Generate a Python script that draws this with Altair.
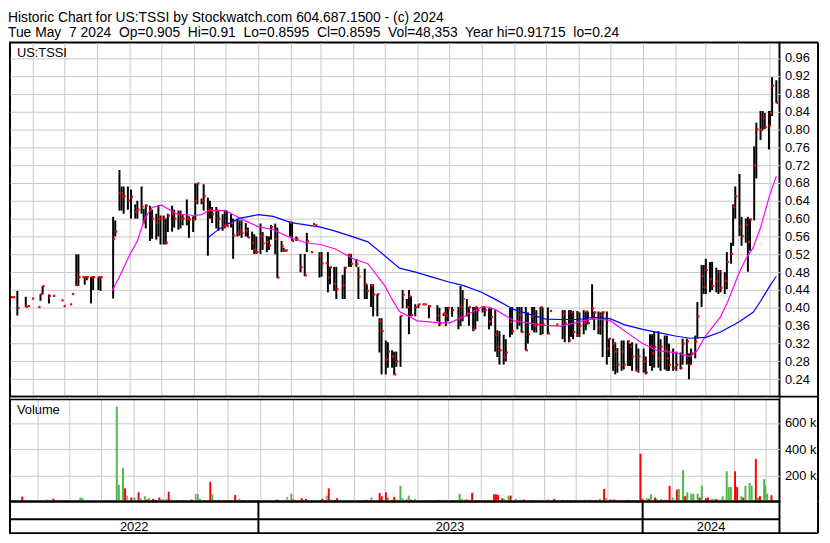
import altair as alt
import numpy as np
import pandas as pd

FONT = "Liberation Sans"
GRID = "#c8c8c8"

TITLE_1 = "Historic Chart for US:TSSI by Stockwatch.com 604.687.1500 - (c) 2024"
TITLE_2 = ("Tue May\u00a0 7 2024\u00a0 Op=0.905\u00a0 Hi=0.91\u00a0 Lo=0.8595\u00a0 "
           "Cl=0.8595\u00a0 Vol=48,353\u00a0 Year hi=0.91715\u00a0 lo=0.24")
SYMBOL = "US:TSSI"
VOLUME_LABEL = "Volume"

price_ticks = [0.24, 0.28, 0.32, 0.36, 0.40, 0.44, 0.48, 0.52, 0.56, 0.60,
               0.64, 0.68, 0.72, 0.76, 0.80, 0.84, 0.88, 0.92, 0.96]
volume_ticks = [200000, 400000, 600000]
year_labels = ["2022", "2023", "2024"]
year_starts = ["2022-05-10", "2023-01-01", "2024-01-01"]
year_ends = ["2023-01-01", "2024-01-01", "2024-05-10"]
grid_months = [(2022, m) for m in range(6, 13)] + [(2023, m) for m in range(1, 13)] + \
              [(2024, m) for m in range(1, 6)]

# bars per month: (high, low, close, volume in thousands); None = no trade
bars_2022_05 = [(.424, .424, .424, 5), (.424, .424, .424, 3), (.438, .383, .400, 37), None, None,
                (.425, .402, .402, 8), (.404, .404, .404, 4), (.421, .421, .421, 6)]
bars_2022_06 = [None, (.402, .402, .402, 5), (.431, .416, .431, 12), (.449, .430, .449, 15), None,
                (.430, .410, .427, 22), (.427, .427, .427, 5), None, None, (.417, .417, .417, 4),
                (.404, .404, .404, 6)]
bars_2022_07 = [None, (.408, .408, .408, 4), (.431, .431, .431, 8), (.520, .449, .451, 30),
                (.520, .449, .469, 25), (.469, .469, .469, 3), (.469, .452, .469, 6),
                (.469, .462, .469, 4), (.469, .410, .469, 10), (.469, .440, .469, 6)]
bars_2022_08 = [(.469, .440, .469, 5), (.469, .438, .469, 6), None, None, None,
                (.604, .421, .555, 725), (.596, .560, .571, 127), (.709, .618, .657, 255),
                (.672, .618, .650, 100), (.672, .611, .650, 45), (.672, .620, .640, 30)]
bars_2022_09 = [(.665, .600, .649, 30), (.632, .600, .615, 70), (.640, .600, .620, 25),
                (.672, .611, .627, 40), (.622, .589, .600, 15), (.632, .578, .629, 25),
                (.629, .550, .619, 20), (.620, .555, .600, 12), (.611, .553, .590, 30),
                (.630, .560, .600, 15), (.607, .542, .600, 20)]
bars_2022_10 = [(.607, .542, .600, 20), (.600, .542, .546, 75), (.611, .570, .607, 15),
                (.629, .571, .611, 10), (.620, .580, .600, 8), (.618, .575, .611, 12),
                (.618, .578, .600, 10), (.610, .585, .600, 8), (.643, .585, .600, 10),
                (.605, .557, .598, 15), (.605, .570, .598, 60)]
bars_2022_11 = [(.679, .596, .640, 55), (.679, .632, .679, 20), (.645, .632, .640, 10),
                (.677, .618, .650, 12), (.647, .517, .618, 150), (.640, .600, .620, 55),
                (.626, .590, .610, 10), (.626, .578, .618, 15), (.618, .573, .600, 8),
                (.610, .573, .582, 10), (.618, .578, .585, 12)]
bars_2022_12 = [(.618, .583, .583, 10), (.610, .580, .590, 8), (.600, .510, .562, 50),
                (.600, .560, .568, 20), (.596, .562, .573, 12), (.596, .557, .568, 10),
                (.590, .560, .573, 8), (.580, .558, .558, 10), (.571, .530, .546, 6),
                (.565, .521, .530, 12), (.560, .521, .525, 10)]
bars_2023_01 = [(.589, .521, .560, 10), (.570, .530, .545, 6), (.561, .525, .548, 8),
                (.560, .530, .540, 5), (.586, .553, .581, 10), (.589, .520, .555, 15),
                (.580, .467, .468, 10), (.550, .525, .539, 8), (.535, .526, .529, 5),
                (.529, .526, .529, 35), (.593, .560, .591, 60)]
bars_2023_02 = [(.593, .550, .550, 15), (.560, .550, .555, 5), None, (.521, .480, .491, 25),
                (.521, .471, .473, 20), (.568, .525, .550, 10), (.525, .525, .525, 4),
                (.588, .588, .588, 5), (.585, .585, .585, 4), (.525, .468, .517, 10)]
bars_2023_03 = [(.525, .470, .500, 20), (.500, .500, .500, 45), (.525, .435, .468, 100),
                (.492, .453, .491, 15), (.492, .438, .454, 10), (.492, .420, .442, 25), None,
                (.474, .420, .450, 10), (.492, .420, .490, 8), (.521, .492, .519, 10),
                (.521, .492, .499, 10)]
bars_2023_04 = [(.510, .492, .499, 10), (.492, .420, .470, 8), None, (.488, .420, .453, 10),
                (.453, .420, .438, 12), (.453, .402, .449, 30), (.453, .381, .430, 10),
                (.431, .381, .431, 8), (.377, .300, .370, 65), (.377, .251, .348, 40)]
bars_2023_05 = [(.327, .251, .284, 70), (.323, .266, .302, 30), (.305, .266, .291, 12),
                (.302, .250, .251, 35), (.302, .268, .280, 15), (.382, .268, .382, 120),
                (.440, .399, .430, 25), (.420, .399, .402, 15), (.440, .341, .426, 45),
                (.426, .381, .384, 15), (.408, .381, .401, 20)]
bars_2023_06 = [(.408, .400, .408, 5), (.408, .408, .408, 4), (.408, .408, .408, 3),
                (.406, .377, .404, 8), None, None, (.406, .370, .383, 10), (.400, .359, .365, 12),
                (.388, .382, .388, 6), (.402, .359, .383, 8), (.402, .370, .400, 10)]
bars_2023_07 = [(.402, .380, .395, 6), None, (.402, .352, .380, 10), (.449, .359, .402, 60),
                (.440, .370, .420, 20), (.420, .381, .388, 15), (.402, .360, .402, 15),
                (.402, .348, .352, 65), (.402, .352, .402, 10), (.402, .370, .395, 8)]
bars_2023_08 = [(.402, .390, .402, 8), (.402, .381, .395, 6), (.399, .352, .370, 10),
                (.399, .360, .380, 8), (.395, .302, .340, 55), (.350, .290, .313, 55),
                (.348, .273, .305, 50), (.340, .273, .289, 25), (.330, .280, .300, 20),
                (.400, .334, .368, 45), (.402, .340, .348, 45)]
bars_2023_09 = [(.402, .352, .370, 20), (.402, .360, .385, 8), (.402, .345, .346, 12),
                (.402, .305, .305, 15), (.390, .320, .341, 10), (.402, .350, .381, 8),
                (.402, .345, .359, 10), (.395, .345, .363, 8), (.402, .339, .402, 10),
                (.401, .341, .363, 8)]
bars_2023_10 = [(.401, .341, .343, 8), (.393, .393, .393, 15), None, (.363, .363, .363, 20), None,
                (.395, .330, .387, 10), (.395, .323, .366, 12), (.395, .323, .327, 8),
                (.395, .335, .390, 6), (.393, .330, .346, 10), (.393, .335, .339, 8)]
bars_2023_11 = [(.390, .335, .360, 8), (.395, .341, .366, 10), (.392, .350, .392, 8),
                (.392, .363, .366, 12), (.453, .374, .399, 15), (.392, .350, .390, 10),
                (.392, .341, .356, 12), (.390, .340, .385, 8), (.392, .290, .390, 20),
                (.392, .273, .309, 95), (.331, .290, .331, 25)]
bars_2023_12 = [(.331, .259, .320, 15), (.323, .251, .302, 12), (.310, .255, .273, 15),
                (.327, .259, .302, 10), (.327, .262, .273, 8), (.327, .270, .325, 12),
                (.320, .270, .313, 10), (.323, .259, .291, 12), (.320, .258, .260, 10),
                (.309, .255, .291, 8)]
bars_2024_01 = [(.309, .255, .280, 365), (.291, .251, .255, 20), (.341, .270, .313, 25),
                (.341, .259, .298, 20), (.348, .266, .313, 55), (.348, .266, .287, 30),
                (.330, .259, .313, 20), (.338, .262, .305, 15), (.338, .259, .287, 10),
                (.320, .259, .273, 12), (.309, .259, .265, 120)]
bars_2024_02 = [(.302, .259, .273, 30), (.300, .262, .265, 90), (.331, .273, .320, 95),
                (.331, .273, .325, 240), (.298, .240, .273, 40), (.309, .273, .298, 70),
                (.338, .287, .325, 60), (.413, .331, .381, 60), (.496, .402, .471, 60),
                (.496, .431, .447, 30)]
bars_2024_03 = [(.510, .431, .485, 120), (.503, .435, .464, 25), (.503, .440, .449, 30),
                (.490, .435, .460, 20), (.485, .431, .481, 15), (.485, .435, .445, 20),
                (.480, .431, .460, 15), (.525, .442, .503, 40), (.546, .499, .521, 230),
                (.632, .539, .626, 110), (.672, .600, .650, 110)]
bars_2024_04 = [(.700, .561, .582, 230), (.604, .539, .561, 110), (.600, .546, .586, 40),
                (.604, .481, .548, 30), (.600, .528, .598, 120), (.762, .596, .719, 140),
                (.815, .690, .800, 120), (.841, .776, .798, 325), (.841, .798, .826, 30),
                (.837, .801, .805, 40), (.841, .755, .808, 170)]
bars_2024_05 = [(.841, .808, .837, 125), (.917, .830, .898, 60), (.910, .8595, .8595, 48)]

# moving averages
ma_fast_dates = ["2022-08-15", "2022-08-22", "2022-09-01", "2022-09-08", "2022-09-15", "2022-09-22",
                 "2022-10-01", "2022-10-15", "2022-11-01", "2022-11-08", "2022-11-15", "2022-12-01",
                 "2022-12-15", "2023-01-01", "2023-01-15", "2023-02-01", "2023-02-15", "2023-03-01",
                 "2023-03-15", "2023-04-01", "2023-04-15", "2023-05-01", "2023-05-08", "2023-05-15",
                 "2023-06-01", "2023-06-15", "2023-07-01", "2023-07-15", "2023-08-01", "2023-08-08",
                 "2023-08-15", "2023-09-01", "2023-09-15", "2023-10-01", "2023-10-15", "2023-11-01",
                 "2023-11-15", "2023-12-01", "2023-12-15", "2024-01-01", "2024-01-15", "2024-02-01",
                 "2024-02-15", "2024-02-22", "2024-03-01", "2024-03-15", "2024-03-22", "2024-04-01",
                 "2024-04-08", "2024-04-15", "2024-04-22", "2024-05-01", "2024-05-07"]
ma_fast_vals = [.438, .47, .52, .55, .60, .625, .630, .611, .607, .609, .618, .618, .600,
                .582, .575, .557, .546, .542, .532, .510, .499, .450, .419, .392, .371, .368,
                .366, .380, .402, .402, .395, .371, .366, .361, .359, .368, .376, .372, .348,
                .320, .304, .300, .291, .305, .338, .380, .415, .475, .510, .535, .580, .655, .695]
ma_slow_dates = ["2022-11-14", "2022-11-22", "2022-12-01", "2022-12-15", "2023-01-01", "2023-01-15",
                 "2023-02-01", "2023-02-15", "2023-03-01", "2023-03-15", "2023-04-01", "2023-04-15",
                 "2023-05-01", "2023-05-15", "2023-06-01", "2023-06-15", "2023-07-01", "2023-07-15",
                 "2023-08-01", "2023-08-15", "2023-09-01", "2023-09-15", "2023-10-01", "2023-10-15",
                 "2023-11-01", "2023-11-15", "2023-12-01", "2023-12-15", "2024-01-01", "2024-01-15",
                 "2024-02-01", "2024-02-15", "2024-03-01", "2024-03-15", "2024-04-01", "2024-04-15",
                 "2024-04-22", "2024-05-01", "2024-05-07"]
ma_slow_vals = [.557, .572, .586, .601, .609, .605, .591, .586, .581, .572, .559, .548, .517,
                .489, .479, .469, .458, .450, .435, .418, .396, .386, .375, .374, .374, .379,
                .376, .362, .352, .345, .337, .332, .334, .346, .368, .390, .415, .450, .471]

months = [
    (2022, 5, bars_2022_05), (2022, 6, bars_2022_06), (2022, 7, bars_2022_07),
    (2022, 8, bars_2022_08), (2022, 9, bars_2022_09), (2022, 10, bars_2022_10),
    (2022, 11, bars_2022_11), (2022, 12, bars_2022_12), (2023, 1, bars_2023_01),
    (2023, 2, bars_2023_02), (2023, 3, bars_2023_03), (2023, 4, bars_2023_04),
    (2023, 5, bars_2023_05), (2023, 6, bars_2023_06), (2023, 7, bars_2023_07),
    (2023, 8, bars_2023_08), (2023, 9, bars_2023_09), (2023, 10, bars_2023_10),
    (2023, 11, bars_2023_11), (2023, 12, bars_2023_12), (2024, 1, bars_2024_01),
    (2024, 2, bars_2024_02), (2024, 3, bars_2024_03), (2024, 4, bars_2024_04),
    (2024, 5, bars_2024_05),
]

first_day = pd.Timestamp("2022-05-10")
last_day = pd.Timestamp("2024-05-07")
rows = []
for yr, mo, bars in months:
    m0 = pd.Timestamp(yr, mo, 1)
    start = max(m0, first_day)
    end = min(m0 + pd.offsets.MonthEnd(0), last_day)
    days = pd.bdate_range(start, end)
    n = len(bars)
    idx = ((np.arange(n) + 0.5) * len(days) / n).astype(int)
    for d, b in zip(days[idx], bars):
        if b is None:
            continue
        h, l, c, v = b
        rows.append({"date": d.strftime("%Y-%m-%d"), "high": h, "low": l,
                     "close": c, "vol": v * 1000})
df = pd.DataFrame(rows)
prev = df["close"].shift(1)
df["dir"] = np.where(df["close"] > prev, "up", np.where(df["close"] < prev, "down", "flat"))
df_rng = df[df["high"] > df["low"]]

ma_fast = pd.DataFrame({"date": ma_fast_dates, "value": ma_fast_vals})
ma_slow = pd.DataFrame({"date": ma_slow_dates, "value": ma_slow_vals})

W = 778
H_PRICE = 358
H_VOL = 106
H_BAND = 32
COL = 39

xs = alt.Scale(type="utc", domain=[alt.DateTime(year=2022, month=5, date=10, utc=True),
                                   alt.DateTime(year=2024, month=5, date=10, utc=True)])
month_values = [alt.DateTime(year=y, month=m, date=1, utc=True) for y, m in grid_months]
x_axis = alt.Axis(labels=False, ticks=False, domain=False, grid=True, gridColor=GRID,
                  gridWidth=1, values=month_values)
x_grid = alt.X("date:T", scale=xs, title=None, axis=x_axis)
yp = alt.Scale(domain=[0.2012, 0.9945], nice=False, zero=False)
yp_axis = alt.Axis(orient="right", values=price_ticks, format=".2f", grid=True,
                   gridColor=GRID, ticks=False, domain=False, labelPadding=5,
                   labelOverlap=False, labelFontSize=13, labelFont=FONT, labelColor="black")
yv = alt.Scale(domain=[0, 800000], nice=False)

one = pd.DataFrame({"k": [0]})


def hline(x1, x2, y, width=2, color="black"):
    return alt.Chart(one).mark_rule(color=color, strokeWidth=width).encode(
        x=alt.value(x1), x2=alt.value(x2), y=alt.value(y))


def vline(x, y1, y2):
    return alt.Chart(one).mark_rule(color="black", strokeWidth=2).encode(
        x=alt.value(x), y=alt.value(y1), y2=alt.value(y2))


price_bars = alt.Chart(df_rng).mark_rule(color="black", strokeWidth=2).encode(
    x=x_grid,
    y=alt.Y("low:Q", scale=yp, title=None, axis=yp_axis),
    y2="high:Q",
)
fast_line = alt.Chart(ma_fast).mark_line(strokeWidth=1.2, color="#ff00ff").encode(
    x=x_grid, y=alt.Y("value:Q", scale=yp, title=None, axis=yp_axis))
slow_line = alt.Chart(ma_slow).mark_line(strokeWidth=1.2, color="#0000ff").encode(
    x=x_grid, y=alt.Y("value:Q", scale=yp, title=None, axis=yp_axis))
closes = alt.Chart(df).mark_square(size=5, color="#ff0000", opacity=1, xOffset=1).encode(
    x=x_grid, y=alt.Y("close:Q", scale=yp, title=None, axis=yp_axis))
sym = alt.Chart(pd.DataFrame({"t": [SYMBOL]})).mark_text(
    align="left", baseline="alphabetic", fontSize=13, font=FONT, color="black").encode(
    x=alt.value(7), y=alt.value(15), text="t:N")

price = alt.layer(
    price_bars, fast_line, slow_line, closes, sym,
    hline(W, W + COL, 0), hline(W, W + COL, H_PRICE), vline(W + COL, 0, H_PRICE),
).properties(width=W, height=H_PRICE)

vol_bars = alt.Chart(df).mark_bar(size=2).encode(
    x=x_grid,
    y=alt.Y("vol:Q", scale=yv, title=None,
            axis=alt.Axis(orient="right", values=volume_ticks, grid=True, gridColor=GRID,
                          ticks=False, domain=False, labelPadding=5, labelFontSize=13,
                          labelFont=FONT, labelColor="black",
                          labelExpr="datum.value / 1000 + ' k'")),
    color=alt.Color("dir:N", scale=alt.Scale(domain=["up", "down", "flat"],
                                             range=["#4cb84c", "#ff0000", "#a0a0a0"]),
                    legend=None),
)
vol_txt = alt.Chart(pd.DataFrame({"t": [VOLUME_LABEL]})).mark_text(
    align="left", baseline="alphabetic", fontSize=13, font=FONT, color="black").encode(
    x=alt.value(7), y=alt.value(18), text="t:N")
volume = alt.layer(
    vol_bars, vol_txt,
    hline(0, W, 1.5, width=1, color="white"), hline(0, W, 3, width=1.5),
    vline(W + COL, 0, H_VOL),
).properties(width=W, height=H_VOL)

years = pd.DataFrame({"label": year_labels, "start": pd.to_datetime(year_starts),
                      "end": pd.to_datetime(year_ends)})
years["mid"] = (years["start"] + (years["end"] - years["start"]) / 2).dt.strftime("%Y-%m-%d")
seps = pd.DataFrame({"date": year_starts[1:]})
year_text = alt.Chart(years).mark_text(fontSize=13, font=FONT, color="black", baseline="middle").encode(
    x=alt.X("mid:T", scale=xs, axis=None), y=alt.value(25.5), text="label:N")
year_sep = alt.Chart(seps).mark_rule(color="black", strokeWidth=2).encode(
    x=alt.X("date:T", scale=xs, axis=None), y=alt.value(0), y2=alt.value(H_BAND))
band = alt.layer(
    year_sep, year_text, hline(0, W, 18),
    vline(W + COL, 0, H_BAND), hline(W, W + COL, H_BAND),
).properties(width=W, height=H_BAND)

chart = alt.vconcat(
    price, volume, band, spacing=0, bounds="flush",
).properties(
    title=alt.TitleParams(text=[TITLE_1, TITLE_2], anchor="start", fontSize=14, font=FONT,
                          fontWeight="normal", color="black", lineHeight=15, offset=1),
    padding={"left": 0, "top": 0, "right": 2, "bottom": 0},
    background="white",
).configure_view(stroke="black", strokeWidth=2)

chart.save("out.html", embed_options={"renderer": "svg", "actions": False})
